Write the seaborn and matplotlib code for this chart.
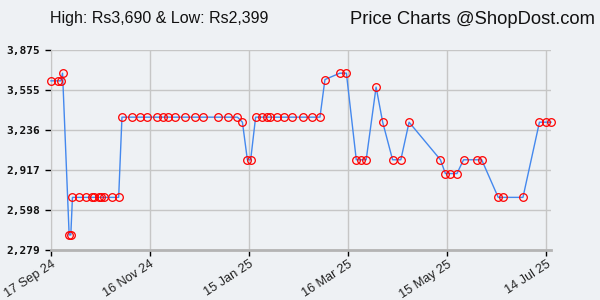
import pandas as pd
import matplotlib
matplotlib.use("Agg")
import matplotlib.pyplot as plt
import seaborn as sns

# price history
dates = ["2024-09-17", "2024-09-21", "2024-09-23", "2024-09-24", "2024-09-28", "2024-09-29",
         "2024-09-30", "2024-10-04", "2024-10-08", "2024-10-12", "2024-10-13", "2024-10-16",
         "2024-10-17", "2024-10-19", "2024-10-24", "2024-10-28",
         "2024-10-30", "2024-11-05", "2024-11-10", "2024-11-14", "2024-11-20", "2024-11-24",
         "2024-11-27", "2024-12-01", "2024-12-07", "2024-12-13", "2024-12-18", "2024-12-27",
         "2025-01-02", "2025-01-08", "2025-01-11", "2025-01-14", "2025-01-16",
         "2025-01-19", "2025-01-23", "2025-01-26", "2025-01-28", "2025-02-01", "2025-02-05",
         "2025-02-10", "2025-02-17", "2025-02-22", "2025-02-27", "2025-03-02",
         "2025-03-11", "2025-03-15", "2025-03-21", "2025-03-24", "2025-03-27", "2025-04-02",
         "2025-04-06", "2025-04-12", "2025-04-17", "2025-04-22", "2025-05-11",
         "2025-05-14", "2025-05-17", "2025-05-21", "2025-05-25", "2025-06-02", "2025-06-05",
         "2025-06-15", "2025-06-18", "2025-06-30", "2025-07-10", "2025-07-14", "2025-07-17"]
prices = [3629, 3629, 3629, 3690, 2399, 2399,
          2699, 2699, 2699, 2699, 2699, 2699,
          2699, 2699, 2699, 2699,
          3339, 3339, 3339, 3339, 3339, 3339,
          3339, 3339, 3339, 3339, 3339, 3339,
          3339, 3339, 3299, 2999, 2999,
          3339, 3339, 3339, 3339, 3339, 3339,
          3339, 3339, 3339, 3339, 3639,
          3690, 3690, 2999, 2999, 2999, 3579,
          3299, 2999, 2999, 3299, 2999,
          2889, 2889, 2889, 2999, 2999, 2999,
          2699, 2699, 2699, 3299, 3299, 3299]

x_ticks = ["2024-09-17", "2024-11-16", "2025-01-15", "2025-03-16", "2025-05-15", "2025-07-14"]
x_tick_labels = ["17 Sep 24", "16 Nov 24", "15 Jan 25", "16 Mar 25", "15 May 25", "14 Jul 25"]
y_ticks = [2279, 2598, 2917, 3236, 3555, 3875]
y_tick_labels = ["2,279", "2,598", "2,917", "3,236", "3,555", "3,875"]

df = pd.DataFrame({"date": pd.to_datetime(dates), "price": prices})

bg = "#eef1f4"
fig = plt.figure(figsize=(6, 3), dpi=100, facecolor=bg)
ax = fig.add_axes([51 / 600, 50 / 300, 500 / 600, 200 / 300])
ax.set_facecolor(bg)

sns.lineplot(data=df, x="date", y="price", ax=ax, sort=False, color="#4488ee", lw=1,
             marker="o", ms=5.5, mfc="none", mec="red", mew=0.9, clip_on=False, zorder=3)

ax.set_xlim(df["date"].min(), df["date"].max())
ax.set_ylim(y_ticks[0], y_ticks[-1])
ax.set_xticks(pd.to_datetime(x_ticks))
ax.set_xticklabels(x_tick_labels, rotation=33, ha="right", rotation_mode="anchor",
                   family="Liberation Sans", fontsize=9.2, color="#222222")
ax.set_yticks(y_ticks)
ax.set_yticklabels(y_tick_labels, family="DejaVu Sans Mono", fontweight="bold",
                   fontsize=8, color="#111111")
ax.set_xlabel("")
ax.set_ylabel("")

ax.grid(True, color="#c6c6c6", lw=1, zorder=0)
ax.set_axisbelow(True)
ax.tick_params(axis="y", length=4, width=1, color="black", pad=4)
ax.tick_params(axis="x", length=4, width=1, color="black", pad=2)
for side in ["top", "right"]:
    ax.spines[side].set_visible(False)
ax.spines["left"].set_color("#c6c6c6")
ax.spines["bottom"].set_color("#b4b4b4")
ax.spines["bottom"].set_linewidth(2)

high = max(prices)
low = min(prices)
fig.text(50 / 600, 1 - 19 / 300, f"High: Rs{high:,} & Low: Rs{low:,}", va="center",
         family="Liberation Sans", fontsize=11.5, color="#111111")
fig.text(595 / 600, 1 - 19 / 300, "Price Charts @ShopDost.com", va="center", ha="right",
         family="Liberation Sans", fontsize=13.2, color="#111111")

fig.savefig("out.png", dpi=100, facecolor=bg)
